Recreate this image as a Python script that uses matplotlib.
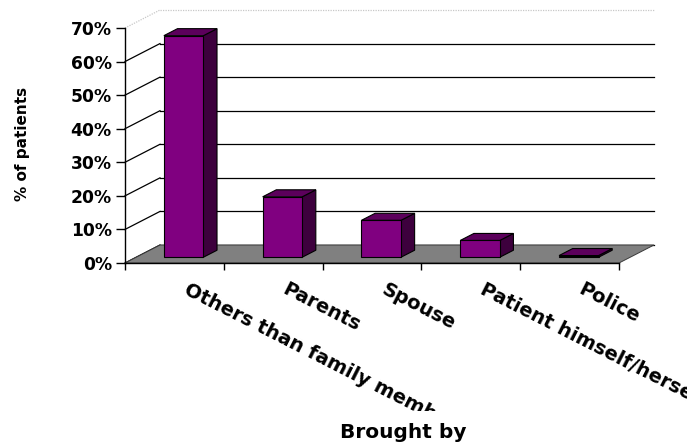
import matplotlib
matplotlib.use("Agg")
import matplotlib.pyplot as plt
from matplotlib.patches import Polygon
from matplotlib.transforms import Bbox, TransformedBbox

categories = ["Others than family members", "Parents", "Spouse",
              "Patient himself/herself", "Police"]
percent_patients = [66, 18, 11, 5, 0.5]
y_ticks = [0, 10, 20, 30, 40, 50, 60, 70]
y_tick_labels = [f"{v}%" for v in y_ticks]

FONT = "DejaVu Sans"
FRONT = "#800080"
SIDE = "#3d003d"
TOP = "#5c005c"
FLOOR = "#808080"

fig = plt.figure(figsize=(6.87, 4.43), dpi=100)
ax = fig.add_axes([125 / 687, 180 / 443, 494 / 687, 235 / 443])
n = len(categories)
ymax = y_ticks[-1]
ax.set_xlim(0, n)
ax.set_ylim(0, ymax)

# oblique depth offset of the chart box, in data units
DX, DY = 0.354, 5.36
# bar placement inside each category slot
BAR_LEFT, BAR_W = 0.28, 0.40
F0, F1 = 0.32, 0.71


def poly(pts, fc, ec="none", lw=0.0, z=1):
    p = Polygon(pts, closed=True, facecolor=fc, edgecolor=ec, linewidth=lw,
                zorder=z, clip_on=False, joinstyle="miter")
    ax.add_patch(p)


# walls
poly([(0, 0), (DX, DY), (DX, ymax + DY), (0, ymax)], "white", z=0.5)
poly([(DX, DY), (n + DX, DY), (n + DX, ymax + DY), (DX, ymax + DY)], "white", z=0.5)

# gridlines on side and back walls
for v in y_ticks:
    col = "#c8c8c8" if v == ymax else "black"
    ls = (0, (1, 1)) if v == ymax else "-"
    ax.plot([0, DX], [v, v + DY], color=col, lw=0.9, ls=ls, clip_on=False, zorder=1)
    ax.plot([DX, n + DX], [v + DY, v + DY], color=col, lw=0.9, ls=ls,
            clip_on=False, zorder=1)

# floor
poly([(0, 0), (n, 0), (n + DX, DY), (DX, DY)], FLOOR, ec="#3a3a3a", lw=0.7, z=2)

# bars
for i, v in enumerate(percent_patients):
    xl = i + BAR_LEFT
    xr = xl + BAR_W
    a0x, a0y = F0 * DX, F0 * DY
    a1x, a1y = F1 * DX, F1 * DY
    poly([(xr + a0x, a0y), (xr + a1x, a1y), (xr + a1x, v + a1y), (xr + a0x, v + a0y)],
         SIDE, ec="black", lw=0.8, z=3)
    poly([(xl + a0x, v + a0y), (xr + a0x, v + a0y), (xr + a1x, v + a1y), (xl + a1x, v + a1y)],
         TOP, ec="black", lw=0.8, z=3)
    poly([(xl + a0x, a0y), (xr + a0x, a0y), (xr + a0x, v + a0y), (xl + a0x, v + a0y)],
         FRONT, ec="black", lw=0.8, z=4)

# axes
for s in ("top", "right"):
    ax.spines[s].set_visible(False)
for s in ("left", "bottom"):
    ax.spines[s].set_linewidth(1.0)
    ax.spines[s].set_zorder(5)
ax.patch.set_visible(False)
ax.set_yticks(y_ticks)
ax.set_yticklabels(y_tick_labels, fontfamily=FONT, fontweight="bold", fontsize=12.3)
ax.set_xticks(range(n + 1))
ax.set_xticklabels([])
ax.tick_params(axis="y", direction="out", length=6.5, width=1.0, pad=3)
ax.tick_params(axis="x", direction="out", length=5.0, width=1.0)

# category labels, clipped above the axis title
clip = TransformedBbox(Bbox([[0, 32 / 443], [1, 1]]), fig.transFigure)
for i, name in enumerate(categories):
    t = ax.text(i + 0.5 + 0.15, -5.0, name, rotation=-27, rotation_mode="anchor",
                ha="left", va="top", fontfamily=FONT, fontweight="bold",
                fontsize=14, clip_on=True)
    t.set_clip_box(clip)

fig.text(23 / 687, 1 - 144 / 443, "% of patients", rotation=90, ha="center",
         va="center", fontfamily=FONT, fontweight="bold", fontsize=11)
fig.text(403 / 687, 1 - 433 / 443, "Brought by", ha="center", va="center",
         fontfamily=FONT, fontweight="bold", fontsize=14.5)

fig.savefig("out.png", dpi=100)
